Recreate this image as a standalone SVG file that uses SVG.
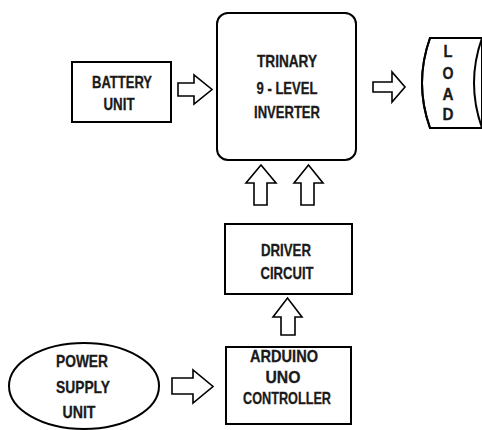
<svg xmlns="http://www.w3.org/2000/svg" width="482" height="430" viewBox="0 0 482 430">
<style>
.box{fill:#fff;stroke:#000;stroke-width:2}
.arr{fill:#fff;stroke:#000;stroke-width:1.6;stroke-linejoin:miter}
text{font-family:"Liberation Sans",Arial,sans-serif;font-weight:bold;font-size:16.5px;fill:#1a1a1a;text-anchor:middle;stroke:#1a1a1a;stroke-width:0.3}
</style>
<rect width="482" height="430" fill="#fff"/>
<g id="battery">
<rect class="box" x="72" y="62" width="99" height="60"/>
<text x="122" y="88" textLength="60" lengthAdjust="spacingAndGlyphs">BATTERY</text>
<text x="119" y="110" textLength="31" lengthAdjust="spacingAndGlyphs">UNIT</text>
</g>
<g id="inverter">
<rect class="box" x="217" y="13" width="139" height="147" rx="11"/>
<text x="287" y="67" textLength="60" lengthAdjust="spacingAndGlyphs">TRINARY</text>
<text x="287" y="94" textLength="61" lengthAdjust="spacingAndGlyphs">9 - LEVEL</text>
<text x="287" y="118" textLength="66" lengthAdjust="spacingAndGlyphs">INVERTER</text>
</g>
<g id="load">
<path class="box" d="M430,38 L482,38 L482,128 L430,128 Q414,83 430,38 Z" stroke="none"/>
<path fill="none" stroke="#000" stroke-width="2" d="M482,38 L430,38 Q414,83 430,128 L482,128"/>
<path fill="none" stroke="#000" stroke-width="2" d="M482,38 Q466,83 482,128"/>
<text x="448" y="57" textLength="9" lengthAdjust="spacingAndGlyphs">L</text>
<text x="448" y="79" textLength="11" lengthAdjust="spacingAndGlyphs">O</text>
<text x="448" y="100" textLength="11" lengthAdjust="spacingAndGlyphs">A</text>
<text x="448" y="120" textLength="11" lengthAdjust="spacingAndGlyphs">D</text>
</g>
<g id="driver">
<rect class="box" x="225" y="224" width="127" height="70"/>
<text x="286" y="256" textLength="50" lengthAdjust="spacingAndGlyphs">DRIVER</text>
<text x="287" y="279" textLength="53" lengthAdjust="spacingAndGlyphs">CIRCUIT</text>
</g>
<g id="arduino">
<rect class="box" x="226" y="347" width="125" height="77"/>
<text x="284" y="362" textLength="68" lengthAdjust="spacingAndGlyphs">ARDUINO</text>
<text x="283" y="383" textLength="35" lengthAdjust="spacingAndGlyphs">UNO</text>
<text x="287" y="404" textLength="88" lengthAdjust="spacingAndGlyphs">CONTROLLER</text>
</g>
<g id="power">
<ellipse class="box" cx="84" cy="386" rx="75" ry="43"/>
<text x="82" y="367" textLength="52" lengthAdjust="spacingAndGlyphs">POWER</text>
<text x="83" y="393" textLength="54" lengthAdjust="spacingAndGlyphs">SUPPLY</text>
<text x="79" y="418" textLength="33" lengthAdjust="spacingAndGlyphs">UNIT</text>
</g>
<g id="connectors">
<polygon class="arr" points="178,83 194,83 194,75 212,89.5 194,104 194,96 178,96"/>
<polygon class="arr" points="373,82 392,82 392,72 405,87 392,102 392,92 373,92"/>
<polygon class="arr" points="254,205 254,183 246,183 261,165 276,183 267,183 267,205"/>
<polygon class="arr" points="301,205 301,183 294,183 308.5,165 323,183 314,183 314,205"/>
<polygon class="arr" points="281,335 281,317 273,317 287.5,298 302,317 295,317 295,335"/>
<polygon class="arr" points="172,378 193,378 193,370 213,386.5 193,403 193,394 172,394"/>
</g>
</svg>
